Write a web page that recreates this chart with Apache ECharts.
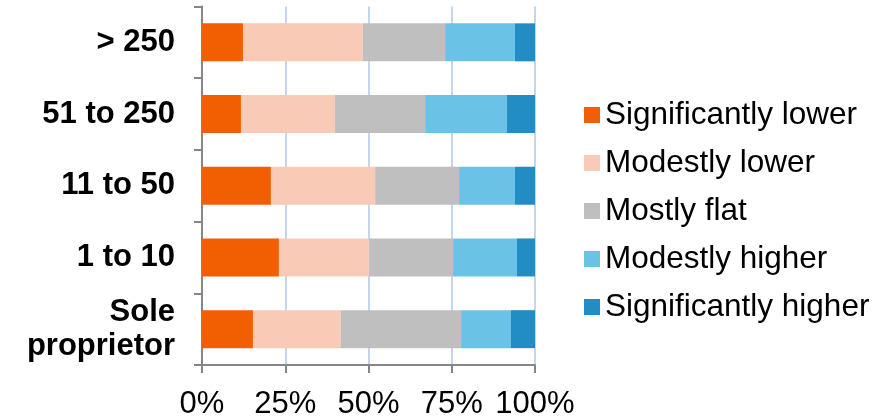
<!DOCTYPE html>
<html>
<head>
<meta charset="utf-8">
<script src="https://cdn.jsdelivr.net/npm/echarts@6/dist/echarts.min.js"></script>
<style>
  html, body { margin: 0; padding: 0; background: #fff; }
  #chart { width: 891px; height: 420px; }
</style>
</head>
<body>
<div id="chart"></div>
<script>
// Company size groups, top to bottom
const categories = ['> 250', '51 to 250', '11 to 50', '1 to 10', 'Sole\nproprietor'];

// Share of respondents (%) in each response group
const significantlyLower = [12.3, 11.7, 20.7, 23.1, 15.3];
const modestlyLower = [36.0, 28.2, 31.3, 27.1, 26.4];
const mostlyFlat = [24.7, 27.1, 25.2, 25.2, 36.1];
const modestlyHigher = [21.0, 24.6, 16.8, 19.2, 15.0];
const significantlyHigher = [6.0, 8.4, 6.0, 5.4, 7.2];

const seriesNames = ['Significantly lower', 'Modestly lower', 'Mostly flat', 'Modestly higher', 'Significantly higher'];
const seriesValues = [significantlyLower, modestlyLower, mostlyFlat, modestlyHigher, significantlyHigher];
const seriesColors = ['#F25E02', '#F9CBB6', '#BFBFBF', '#6AC3E7', '#228DC2'];

const xTicks = [0, 25, 50, 75, 100];

const font = 'Liberation Sans, Arial, sans-serif';
const chart = echarts.init(document.getElementById('chart'), null, { renderer: 'canvas' });

chart.setOption({
  animation: false,
  backgroundColor: '#ffffff',
  grid: { left: 202, right: 356, top: 6.5, bottom: 53, containLabel: false },
  legend: {
    orient: 'vertical',
    left: 579,
    top: 94,
    itemWidth: 16,
    itemHeight: 16,
    itemGap: 16,
    icon: 'rect',
    textStyle: { fontFamily: font, fontSize: 31.5, color: '#000', lineHeight: 30 },
    data: seriesNames
  },
  xAxis: {
    type: 'value',
    min: 0,
    max: 100,
    interval: 25,
    axisLine: { show: true, lineStyle: { color: '#868686', width: 2 } },
    axisTick: { show: true, length: 8, lineStyle: { color: '#868686', width: 2 } },
    splitLine: { show: true, lineStyle: { color: '#C5D6EA', width: 2 } },
    axisLabel: {
      margin: 24,
      fontFamily: font,
      fontSize: 31,
      color: '#000',
      formatter: v => (xTicks.includes(v) ? v + '%' : '')
    }
  },
  yAxis: {
    type: 'category',
    inverse: true,
    data: categories,
    axisLine: { show: true, lineStyle: { color: '#868686', width: 2 } },
    axisTick: { show: true, length: 8, lineStyle: { color: '#868686', width: 2 } },
    axisLabel: {
      margin: 27,
      fontFamily: font,
      fontSize: 31,
      fontWeight: 'bold',
      color: '#000',
      lineHeight: 34,
      align: 'right'
    }
  },
  series: seriesNames.map((name, i) => ({
    name,
    type: 'bar',
    stack: 'total',
    barWidth: 38,
    itemStyle: { color: seriesColors[i] },
    data: seriesValues[i]
  }))
});
</script>
</body>
</html>
